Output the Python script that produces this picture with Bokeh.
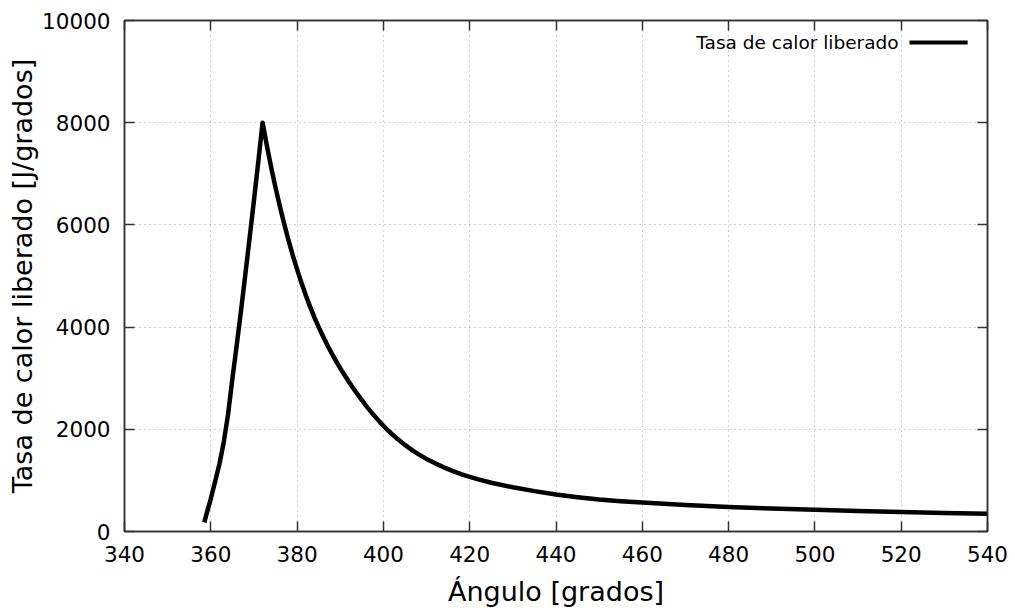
from bokeh.plotting import figure
from bokeh.models import (Range1d, LinearAxis, FixedTicker, CustomJSTickFormatter, Label)
from bokeh.embed import file_html
from bokeh.resources import INLINE

# ---- data ----
angle = [358.5, 359, 360, 361, 362, 363, 364, 365, 366, 367, 368, 369, 370, 371, 372,
         373, 374, 375, 376, 377, 378, 379, 380, 381, 382, 383, 384, 385,
         386, 387, 388, 389, 390, 391, 392, 393, 394, 395, 396, 397, 398, 399, 400,
         401, 402, 403, 404, 405, 406, 407, 408, 409, 410, 412, 414, 416, 418, 420,
         422, 425, 430, 435, 440, 445, 450, 455, 460, 470, 480, 490, 500, 510, 520, 530, 540]
hrr = [180, 340, 640, 980, 1320, 1750, 2290, 2990, 3640, 4320, 5030, 5750, 6480, 7230, 8000,
       7547, 7124, 6730, 6364, 6022, 5703, 5405, 5128, 4868, 4626, 4401, 4190, 4000,
       3820, 3650, 3490, 3340, 3195, 3060, 2930, 2805, 2685, 2570, 2460, 2355, 2255, 2160, 2070,
       1985, 1905, 1830, 1760, 1694, 1632, 1574, 1520, 1469, 1421, 1334, 1256, 1186, 1124, 1070,
       1021, 955, 865, 790, 725, 672, 628, 594, 567, 518, 478, 448, 424, 402, 381, 362, 346]
x_ticks = [340, 360, 380, 400, 420, 440, 460, 480, 500, 520, 540]
y_ticks = [0, 2000, 4000, 6000, 8000, 10000]
series_name = "Tasa de calor liberado"
x_label = "Ángulo [grados]"
y_label = "Tasa de calor liberado [J/grados]"

X0, X1 = 340, 540
Y0, Y1 = 0, 10000

FONT = "DejaVu Sans"
AX_COLOR = "#333333"

p = figure(width=1015, height=612, output_backend="svg", toolbar_location=None,
           x_range=Range1d(X0, X1), y_range=Range1d(Y0, Y1),
           min_border_left=124, min_border_right=28, min_border_top=20, min_border_bottom=81,
           background_fill_color="white", border_fill_color="white")
p.outline_line_color = AX_COLOR
p.outline_line_width = 1.5

for ax in (p.xaxis[0], p.yaxis[0]):
    ax.major_tick_in = 10
    ax.major_tick_out = 0
    ax.minor_tick_in = 0
    ax.minor_tick_out = 0
    ax.axis_line_color = AX_COLOR
    ax.axis_line_width = 1.5
    ax.major_tick_line_color = AX_COLOR
    ax.major_tick_line_width = 1.5
    ax.major_label_text_font = FONT
    ax.major_label_text_font_size = "21.5px"
    ax.major_label_text_color = "black"
    ax.axis_label_text_font = FONT
    ax.axis_label_text_font_size = "27px"
    ax.axis_label_text_font_style = "normal"
    ax.axis_label_text_color = "black"

p.xaxis[0].ticker = FixedTicker(ticks=x_ticks)
p.yaxis[0].ticker = FixedTicker(ticks=y_ticks)
p.xaxis[0].axis_label = x_label
p.yaxis[0].axis_label = y_label
p.xaxis[0].major_label_standoff = 14
p.yaxis[0].major_label_standoff = 14
p.xaxis[0].axis_label_standoff = 11
p.yaxis[0].axis_label_standoff = 1

# mirrored axes (ticks only)
blank = CustomJSTickFormatter(code="return ''")
for loc, tk in (("above", x_ticks), ("right", y_ticks)):
    ax = LinearAxis(ticker=FixedTicker(ticks=tk), formatter=blank,
                    major_tick_in=10, major_tick_out=0, minor_tick_in=0, minor_tick_out=0,
                    axis_line_color=AX_COLOR, axis_line_width=1.5,
                    major_tick_line_color=AX_COLOR, major_tick_line_width=1.5,
                    major_label_standoff=0, major_label_text_font_size="1px")
    p.add_layout(ax, loc)

for g in (p.xgrid[0], p.ygrid[0]):
    g.grid_line_color = "#a0a0a0"
    g.grid_line_dash = "1 4"
    g.grid_line_width = 1
p.xgrid[0].ticker = FixedTicker(ticks=x_ticks)
p.ygrid[0].ticker = FixedTicker(ticks=y_ticks)

p.line(angle, hrr, line_color="black", line_width=4.5, line_join="round")

# legend (text left of sample line, gnuplot style)
lx_text = X0 + (X1 - X0) * 0.897
ly = Y0 + (Y1 - Y0) * 0.957
p.add_layout(Label(x=lx_text, y=ly, text=series_name, text_font=FONT,
                   text_font_size="18.5px", text_color="black",
                   text_align="right", text_baseline="middle"))
p.line([X0 + (X1 - X0) * 0.9096, X0 + (X1 - X0) * 0.977], [ly, ly],
       line_color="black", line_width=4)

open("out.html", "w").write(file_html(p, INLINE))
